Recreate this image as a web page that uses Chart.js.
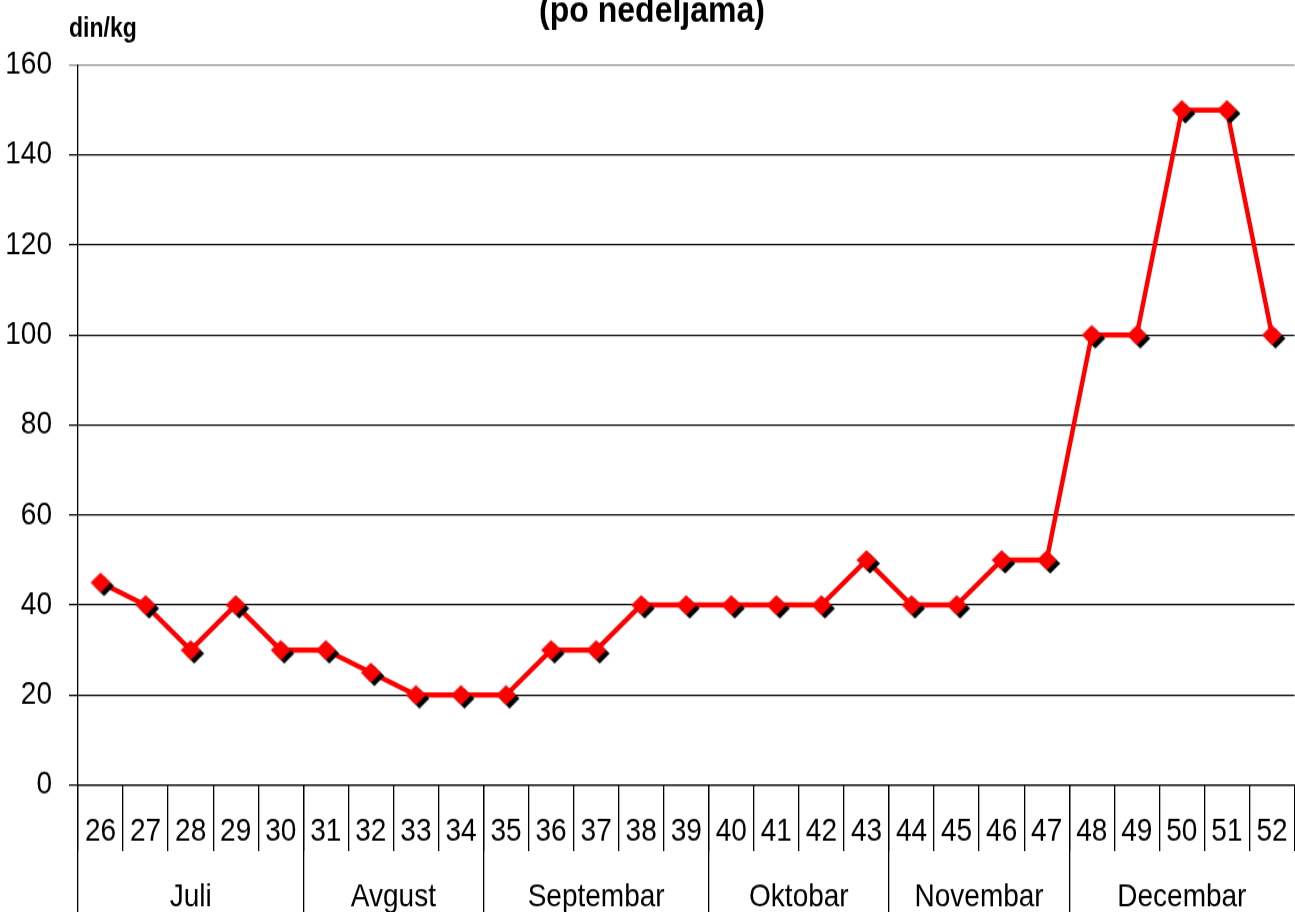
<!DOCTYPE html>
<html>
<head>
<meta charset="utf-8">
<script src="https://cdn.jsdelivr.net/npm/chart.js@4"></script>
<style>
  html, body { margin: 0; padding: 0; overflow: hidden; background: #fff; }
</style>
</head>
<body>
<canvas id="chart" width="1310" height="793" style="display:block;width:1310px;height:912px"></canvas>
<script>
// Weekly prices, din/kg
const weeks = ['26','27','28','29','30','31','32','33','34','35','36','37','38','39',
               '40','41','42','43','44','45','46','47','48','49','50','51','52'];
const prices = [45, 40, 30, 40, 30, 30, 25, 20, 20, 20, 30, 30, 40, 40,
                40, 40, 40, 50, 40, 40, 50, 50, 100, 100, 150, 150, 100];
const months = ['Juli', 'Avgust', 'Septembar', 'Oktobar', 'Novembar', 'Decembar'];
const weeksPerMonth = [5, 4, 5, 4, 4, 5];
const yTicks = [0, 20, 40, 60, 80, 100, 120, 140, 160];

const FONT = "'Liberation Sans', Arial, sans-serif";
const LINE_W = 1.3;

// red diamond with a black drop shadow, used as point style
function makeMarker() {
    const c = document.createElement('canvas');
    c.width = 42; c.height = 42;
    const g = c.getContext('2d');
    function diamond(cx, cy, color) {
        g.beginPath();
        g.moveTo(cx, cy - 8.8);
        g.lineTo(cx + 10, cy);
        g.lineTo(cx, cy + 8.8);
        g.lineTo(cx - 10, cy);
        g.closePath();
        g.fillStyle = color;
        g.fill();
    }
    diamond(24.5, 24, '#000');
    diamond(21, 21, '#ff0000');
    return c;
}

// same pixel snapping as chart.js uses for grid lines
function snap(px) {
    const h = LINE_W / 2;
    return Math.round(px - h) + h;
}

// month row under the week numbers + text labels
const monthRow = {
    id: 'monthRow',
    afterDraw(chart) {
        const ctx = chart.ctx;
        const x = chart.scales.x;
        const area = chart.chartArea;
        const half = (x.getPixelForValue(1) - x.getPixelForValue(0)) / 2;
        ctx.save();
        ctx.strokeStyle = '#000';
        ctx.lineWidth = LINE_W;
        ctx.fillStyle = '#000';
        ctx.font = '28px ' + FONT;
        ctx.textAlign = 'center';
        ctx.textBaseline = 'alphabetic';
        let start = 0;
        months.forEach((m, i) => {
            const end = start + weeksPerMonth[i] - 1;
            const left = x.getPixelForValue(start) - half;
            const right = x.getPixelForValue(end) + half;
            ctx.beginPath();
            ctx.moveTo(snap(left), area.bottom);
            ctx.lineTo(snap(left), chart.height);
            ctx.stroke();
            ctx.fillText(m, (left + right) / 2, 788);
            start = end + 1;
        });

        ctx.font = 'bold 23px ' + FONT;
        ctx.textAlign = 'left';
        ctx.fillText('din/kg', 69, 32);

        ctx.font = 'bold 32px ' + FONT;
        ctx.textAlign = 'center';
        ctx.fillText('(po nedeljama)', 652, 19);
        ctx.restore();
    }
};

new Chart(document.getElementById('chart'), {
    type: 'line',
    data: {
        labels: weeks,
        datasets: [{
            data: prices,
            borderColor: '#ff0000',
            borderWidth: 4.5,
            tension: 0,
            pointStyle: makeMarker(),
            pointRadius: 11,
            pointHoverRadius: 11
        }]
    },
    options: {
        responsive: false,
        animation: false,
        devicePixelRatio: 1,
        layout: { padding: { top: 56.5, right: 6, bottom: 0, left: 0 } },
        plugins: {
            legend: { display: false },
            tooltip: { enabled: false },
            title: { display: false }
        },
        scales: {
            x: {
                type: 'category',
                offset: true,
                grid: {
                    offset: true,
                    drawOnChartArea: false,
                    drawTicks: true,
                    tickLength: 57.4,
                    color: '#000',
                    lineWidth: LINE_W
                },
                border: { display: true, color: '#000', width: LINE_W },
                ticks: {
                    color: '#000',
                    font: { family: FONT, size: 28 },
                    padding: -33.5,
                    maxRotation: 0,
                    autoSkip: false
                },
                afterFit(scale) { scale.height = 110.4; }
            },
            y: {
                min: 0,
                max: 160,
                afterBuildTicks(scale) {
                    scale.ticks = yTicks.map(v => ({ value: v }));
                },
                grid: {
                    color: ctx => (ctx.tick && ctx.tick.value === 160) ? '#8c8c8c' : '#000',
                    lineWidth: LINE_W,
                    drawTicks: true,
                    tickLength: 9
                },
                border: { display: true, color: '#000', width: LINE_W },
                ticks: {
                    color: '#000',
                    font: { family: FONT, size: 28 },
                    padding: 17
                },
                afterFit(scale) { scale.width = 78; }
            }
        }
    },
    plugins: [monthRow]
});
</script>
</body>
</html>
